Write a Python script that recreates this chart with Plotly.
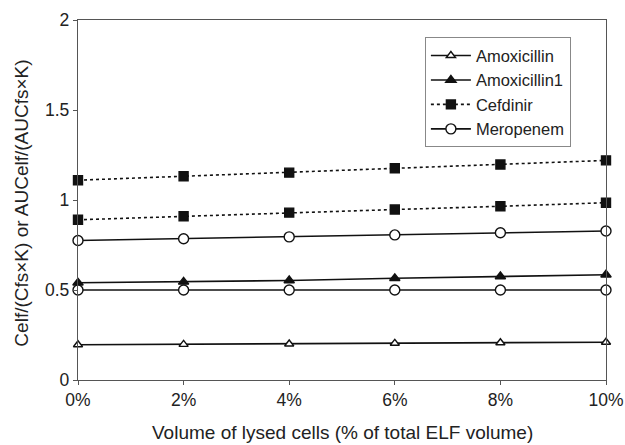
import plotly.graph_objects as go

x_vals = [0, 2, 4, 6, 8, 10]
x_labels = ["0%", "2%", "4%", "6%", "8%", "10%"]
y_ticks = [0, 0.5, 1, 1.5, 2]
y_labels = ["0", "0.5", "1", "1.5", "2"]
x_title = "Volume of lysed cells (% of total ELF volume)"
y_title = "Celf/(Cfs×K) or AUCelf/(AUCfs×K)"

amoxicillin = [0.196, 0.198, 0.200, 0.204, 0.207, 0.210]
amoxicillin1 = [0.540, 0.545, 0.553, 0.565, 0.575, 0.585]
cefdinir_a = [1.110, 1.132, 1.152, 1.176, 1.197, 1.220]
cefdinir_b = [0.890, 0.910, 0.930, 0.947, 0.965, 0.985]
meropenem_a = [0.775, 0.785, 0.795, 0.806, 0.818, 0.828]
meropenem_b = [0.500, 0.500, 0.500, 0.500, 0.500, 0.500]

BLACK = "#111111"
FAMILY = "Liberation Sans, Arial, sans-serif"
fig = go.Figure()

def add(name, y, symbol, dash, msize, show, fill=True):
    fig.add_trace(go.Scatter(
        x=x_vals, y=y, name=name, legendgroup=name, showlegend=show,
        mode="lines+markers",
        line=dict(color=BLACK, width=1.6, dash=dash),
        marker=dict(symbol=symbol, size=msize,
                    color=BLACK if fill else "white",
                    line=dict(color=BLACK, width=1.4)),
        cliponaxis=False,
    ))

add("Amoxicillin", amoxicillin, "triangle-up", "solid", 8, True, fill=False)
add("Amoxicillin1", amoxicillin1, "triangle-up", "solid", 9, True)
add("Cefdinir", cefdinir_a, "square", "dot", 9, True)
add("Cefdinir", cefdinir_b, "square", "dot", 9, False)
add("Meropenem", meropenem_a, "circle", "solid", 10, True, fill=False)
add("Meropenem", meropenem_b, "circle", "solid", 10, False, fill=False)

tick_font = dict(family=FAMILY, size=17.5, color="#222222")
title_font = dict(family=FAMILY, size=19, color="#222222")

fig.update_layout(
    width=625, height=445,
    margin=dict(l=78, r=19, t=20, b=65),
    paper_bgcolor="white", plot_bgcolor="white",
    font=tick_font,
    xaxis=dict(
        range=[0, 10], tickvals=x_vals, ticktext=x_labels,
        showgrid=False, zeroline=False, automargin=False,
        showline=True, linecolor="#555555", linewidth=1.3, mirror=True,
        ticks="outside", ticklen=4, tickcolor="#555555",
        tickfont=tick_font,
    ),
    yaxis=dict(
        range=[0, 2], tickvals=y_ticks, ticktext=y_labels,
        showgrid=False, zeroline=False, automargin=False,
        showline=True, linecolor="#555555", linewidth=1.3, mirror=True,
        ticks="outside", ticklen=4, tickcolor="#555555",
        tickfont=tick_font,
    ),
    legend=dict(
        x=0.657, y=0.952, xanchor="left", yanchor="top",
        bgcolor="white", bordercolor="#888888", borderwidth=1,
        font=dict(family=FAMILY, size=16.5, color="#222222"),
        tracegroupgap=0, itemwidth=40,
    ),
    annotations=[
        dict(text=x_title, xref="paper", yref="paper", x=0.5, y=-0.147,
             xanchor="center", yanchor="middle", showarrow=False, font=title_font),
        dict(text=y_title, xref="paper", yref="paper", x=-0.106, y=0.49,
             xanchor="center", yanchor="middle", showarrow=False, font=title_font,
             textangle=-90),
    ],
)

fig.write_html("out.html", config={"displayModeBar": False},
               post_script="document.body.style.margin='0';document.body.style.overflow='hidden';")
